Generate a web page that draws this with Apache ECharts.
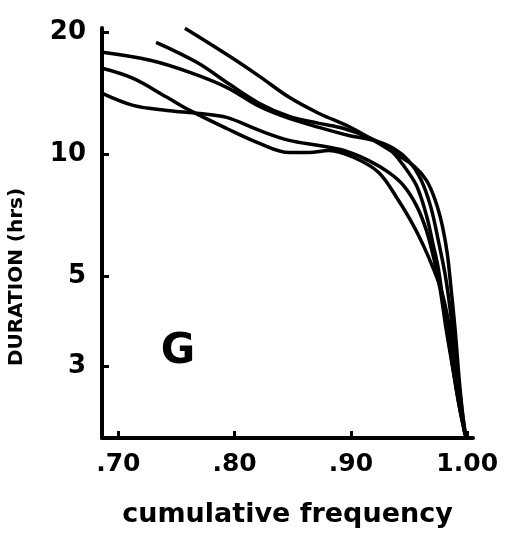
<!DOCTYPE html>
<html>
<head>
<meta charset="utf-8">
<script src="https://cdn.jsdelivr.net/npm/echarts@6/dist/echarts.min.js"></script>
<style>
html,body{margin:0;padding:0;background:#fff;}
#chart{width:519px;height:545px;}
</style>
</head>
<body>
<div id="chart"></div>
<script>
// ---- data (x = cumulative frequency, y = duration in hrs) ----
var curveA = [[0.6863,17.86],[0.7274,17.07],[0.7615,15.94],[0.7932,14.64],[0.8214,13.13],[0.8470,12.27],[0.8726,11.66],[0.8983,11.14],[0.9197,10.83],[0.9368,10.35],[0.9496,9.66],[0.9598,8.73],[0.9684,7.48],[0.9752,6.13],[0.9812,5.03],[0.9855,4.12],[0.9897,3.28],[0.9940,2.54],[0.9983,2.03]];
var curveB = [[0.6863,16.31],[0.7128,15.40],[0.7419,13.83],[0.7615,12.84],[0.7932,11.59],[0.8214,10.65],[0.8470,10.11],[0.8641,10.11],[0.8812,10.23],[0.9026,9.83],[0.9239,9.03],[0.9410,7.70],[0.9538,6.68],[0.9624,5.96],[0.9709,5.23],[0.9778,4.62],[0.9838,3.89],[0.9906,2.93],[0.9949,2.33],[0.9983,2.035]];
var curveC = [[0.6863,14.14],[0.7128,13.21],[0.7419,12.84],[0.7701,12.62],[0.7932,12.34],[0.8214,11.46],[0.8470,10.83],[0.8726,10.52],[0.8940,10.23],[0.9154,9.66],[0.9325,9.03],[0.9453,8.38],[0.9564,7.48],[0.9650,6.49],[0.9718,5.47],[0.9769,4.62],[0.9821,3.68],[0.9880,2.93],[0.9932,2.40],[0.9983,2.035]];
var curveD = [[0.7325,18.90],[0.7675,16.87],[0.7957,14.89],[0.8214,13.36],[0.8470,12.41],[0.8726,11.93],[0.8940,11.59],[0.9154,11.01],[0.9325,10.35],[0.9453,9.39],[0.9564,8.38],[0.9650,7.07],[0.9709,5.96],[0.9752,5.23],[0.9803,4.12],[0.9855,3.28],[0.9923,2.47],[0.9983,2.035]];
var curveE = [[0.7573,20.47],[0.7957,17.46],[0.8214,15.58],[0.8470,13.83],[0.8726,12.62],[0.8983,11.72],[0.9197,10.83],[0.9368,10.11],[0.9538,9.39],[0.9650,8.63],[0.9726,7.70],[0.9786,6.68],[0.9829,5.69],[0.9863,4.62],[0.9897,3.68],[0.9932,2.77],[0.9966,2.23],[0.9991,2.01]];
var xTicks = [0.70, 0.80, 0.90, 1.00];
var yTicks = [3, 5, 10, 20];
var xRange = [0.686, 1.005];
var yRange = [2, 20.5];
var panelLabel = 'G';
var xTitle = 'cumulative frequency';
var yTitle = 'DURATION (hrs)';

// ---- chart ----
var FONT = '"DejaVu Sans", sans-serif';
function toLog(curve){ return curve.map(function(p){ return [p[0], Math.log10(p[1])]; }); }
var curves = [curveA, curveB, curveC, curveD, curveE];
var series = curves.map(function(c){
  return {
    type: 'line', data: toLog(c), smooth: 0.35, showSymbol: false, symbol: 'none',
    lineStyle: {color: '#000', width: 3.5}, clip: false, silent: true
  };
});

var chart = echarts.init(document.getElementById('chart'), null, {renderer: 'canvas'});
chart.setOption({
  animation: false,
  backgroundColor: '#fff',
  grid: {left: 102, right: 46, top: 28, bottom: 107, containLabel: false},
  xAxis: {
    type: 'value', min: xRange[0], max: xRange[1],
    axisLine: {show: true, onZero: false, lineStyle: {color: '#000', width: 4}},
    axisTick: {show: true, inside: true, length: 7, lineStyle: {color: '#000', width: 3}, customValues: xTicks},
    axisLabel: {
      customValues: xTicks, margin: 14, color: '#000',
      fontFamily: FONT, fontWeight: 'bold', fontSize: 25,
      formatter: function(v){ var s = Number(v).toFixed(2); return v < 1 ? s.slice(1) : s; }
    },
    splitLine: {show: false},
    name: xTitle, nameLocation: 'middle', nameGap: 63,
    nameTextStyle: {color: '#000', fontFamily: FONT, fontWeight: 'bold', fontSize: 27}
  },
  yAxis: {
    type: 'value', min: Math.log10(yRange[0]), max: Math.log10(yRange[1]),
    axisLine: {show: true, onZero: false, lineStyle: {color: '#000', width: 4}},
    axisTick: {show: true, inside: true, length: 7, lineStyle: {color: '#000', width: 3}, customValues: yTicks.map(Math.log10)},
    axisLabel: {
      customValues: yTicks.map(Math.log10), margin: 16, color: '#000',
      fontFamily: FONT, fontWeight: 'bold', fontSize: 26,
      formatter: function(v){ return String(Math.round(Math.pow(10, v))); }
    },
    splitLine: {show: false}
  },
  graphic: [
    {type: 'text', x: 17, y: 277, rotation: Math.PI/2,
     style: {text: yTitle, fill: '#000', font: 'bold 20px ' + FONT, align: 'center', verticalAlign: 'middle'}},
    {type: 'text', x: 178, y: 352,
     style: {text: panelLabel, fill: '#000', font: 'bold 42px ' + FONT, align: 'center', verticalAlign: 'middle'}}
  ],
  series: series
});
</script>
</body>
</html>
